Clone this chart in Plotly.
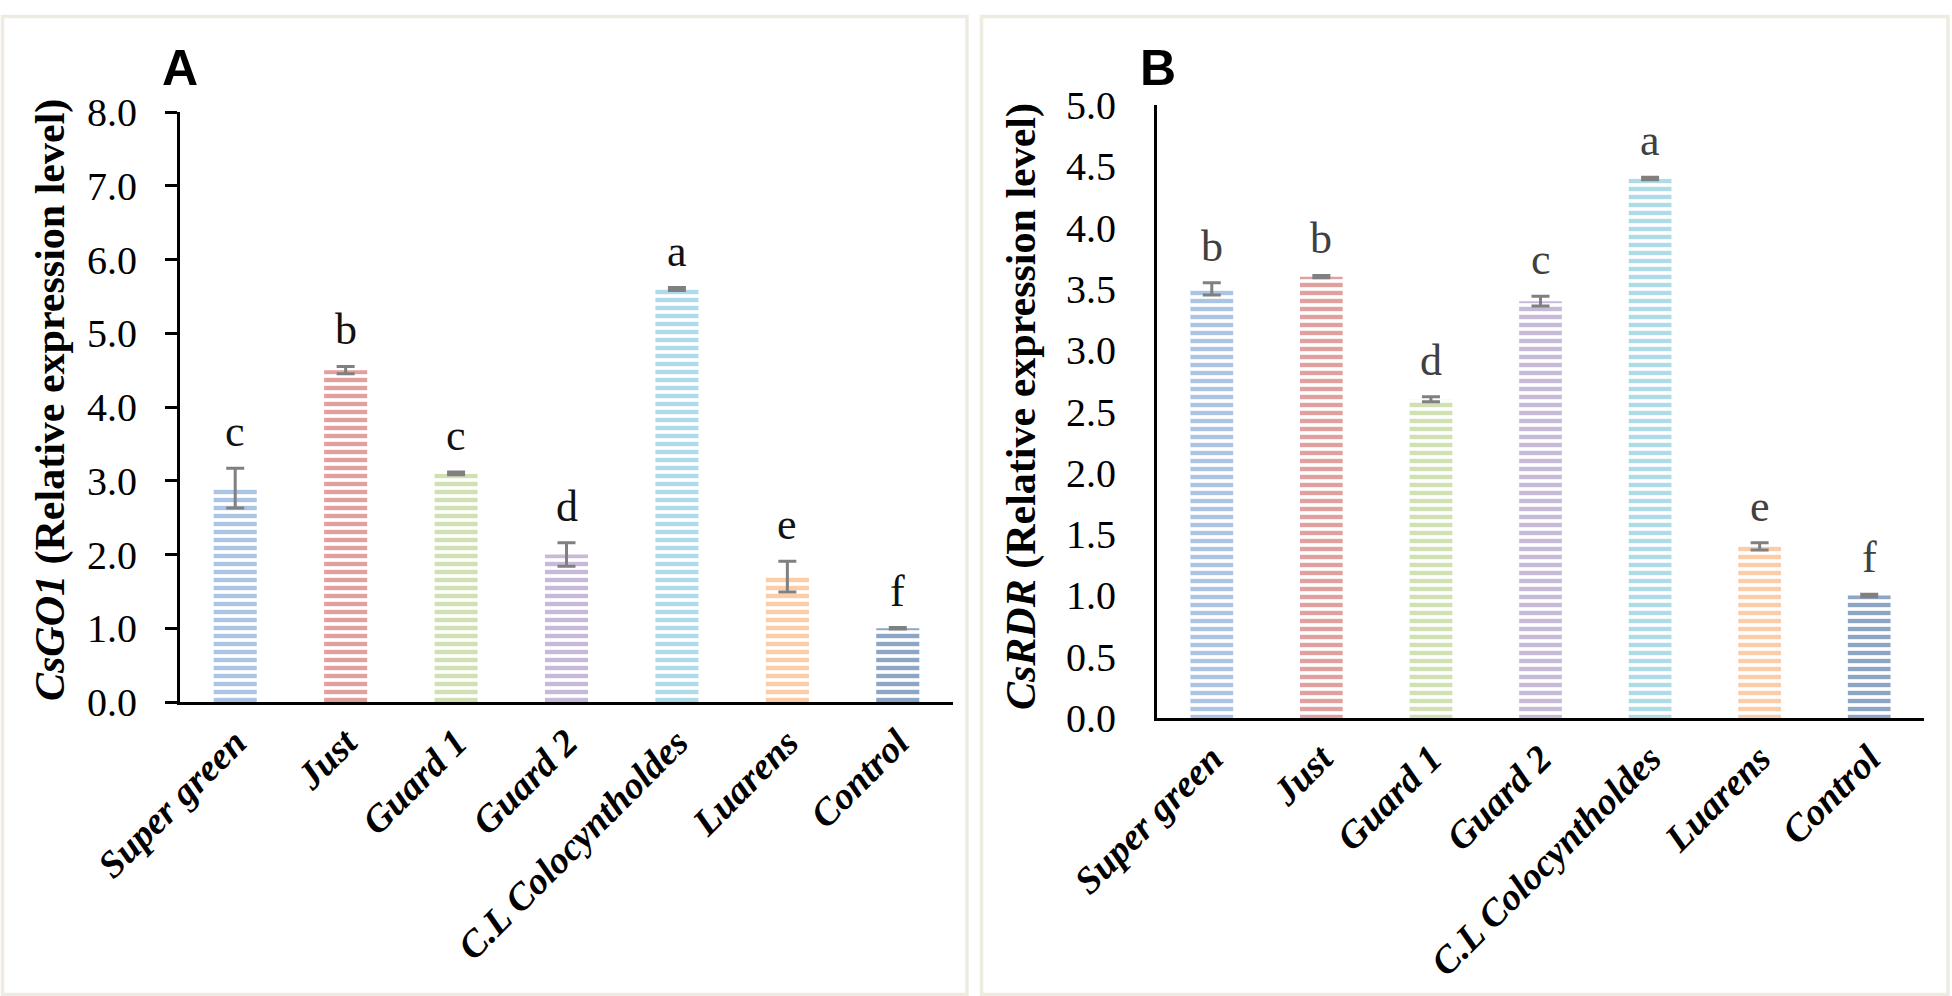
import plotly.graph_objects as go

# ---------------- data ----------------
categories = ["Super green", "Just", "Guard 1", "Guard 2",
              "C.L Colocyntholdes", "Luarens", "Control"]

go1_values = [2.9, 4.5, 3.1, 2.0, 5.6, 1.7, 1.0]
go1_errors = [0.27, 0.05, 0.02, 0.16, 0.02, 0.21, 0.01]
go1_letters = ["c", "b", "c", "d", "a", "e", "f"]

rdr_values = [3.5, 3.6, 2.6, 3.4, 4.4, 1.4, 1.0]
rdr_errors = [0.05, 0.01, 0.02, 0.04, 0.01, 0.03, 0.01]
rdr_letters = ["b", "b", "d", "c", "a", "e", "f"]

go1_ticks = [0, 1, 2, 3, 4, 5, 6, 7, 8]
rdr_ticks = [0, 0.5, 1.0, 1.5, 2.0, 2.5, 3.0, 3.5, 4.0, 4.5, 5.0]

# ---------------- style ----------------
dark_colors = ["#4f81bd", "#c0504d", "#9bbb59", "#8064a2", "#4bacc6", "#f79646", "#234a79"]
light_colors = ["#abc4e4", "#e0a09e", "#d1e0b2", "#c7bad8", "#afdae7", "#fbcca6", "#8ea6c5"]

W, H = 1952, 996
SERIF = "Liberation Serif"


def px_x(p):
    return p / W


def px_y(p):
    return 1 - p / H


fig = go.Figure()

for vals, errs, xa, ya in [(go1_values, go1_errors, "x", "y"),
                           (rdr_values, rdr_errors, "x2", "y2")]:
    fig.add_trace(go.Bar(
        x=categories, y=vals, xaxis=xa, yaxis=ya,
        marker=dict(
            color=light_colors, line=dict(width=0),
            pattern=dict(shape="-", fgcolor=dark_colors, bgcolor=light_colors,
                         fgopacity=1, size=8, solidity=0.55, fillmode="replace"),
        ),
        error_y=dict(type="data", array=errs, visible=True,
                     color="#808080", thickness=3, width=9),
        showlegend=False,
    ))

annotations = []
for vals, errs, letters, xa, ya, col in [
        (go1_values, go1_errors, go1_letters, "x", "y", "#111111"),
        (rdr_values, rdr_errors, rdr_letters, "x2", "y2", "#404040")]:
    for c, v, e, t in zip(categories, vals, errs, letters):
        annotations.append(dict(
            x=c, y=v + e, xref=xa, yref=ya, text=t, showarrow=False,
            yanchor="bottom", xanchor="center", yshift=10,
            font=dict(family=SERIF, size=44, color=col)))

# axis titles (rotated)
annotations.append(dict(
    x=px_x(50), y=px_y(400), xref="paper", yref="paper",
    text="<b><i>CsGO1</i> (Relative expression level)</b>",
    textangle=-90, showarrow=False, xanchor="center", yanchor="middle",
    font=dict(family=SERIF, size=42, color="black")))
annotations.append(dict(
    x=px_x(1021), y=px_y(407), xref="paper", yref="paper",
    text="<b><i>CsRDR</i> (Relative expression level)</b>",
    textangle=-90, showarrow=False, xanchor="center", yanchor="middle",
    font=dict(family=SERIF, size=42, color="black")))

# panel letters
annotations.append(dict(
    x=px_x(180), y=px_y(68), xref="paper", yref="paper", text="<b>A</b>",
    showarrow=False, xanchor="center", yanchor="middle",
    font=dict(family="Liberation Sans", size=50, color="black")))
annotations.append(dict(
    x=px_x(1158), y=px_y(68), xref="paper", yref="paper", text="<b>B</b>",
    showarrow=False, xanchor="center", yanchor="middle",
    font=dict(family="Liberation Sans", size=50, color="black")))

# panel frames
frame_col = "#eeece1"
shapes = [
    dict(type="rect", xref="paper", yref="paper",
         x0=px_x(2.5), x1=px_x(967), y0=px_y(994.5), y1=px_y(16.5),
         line=dict(color=frame_col, width=3.5), layer="below"),
    dict(type="rect", xref="paper", yref="paper",
         x0=px_x(981.5), x1=px_x(1948), y0=px_y(994.5), y1=px_y(16.5),
         line=dict(color=frame_col, width=3.5), layer="below"),
]

xtickfont = dict(family=SERIF, size=38, color="black", weight="bold", style="italic")
ytickfont = dict(family=SERIF, size=40, color="black")

fig.update_layout(
    width=W, height=H,
    margin=dict(l=0, r=0, t=0, b=0, autoexpand=False),
    paper_bgcolor="white", plot_bgcolor="white",
    bargap=0.61,
    annotations=annotations,
    shapes=shapes,
    xaxis=dict(domain=[px_x(180), px_x(953)], anchor="y", automargin=False,
               showline=True, linecolor="black", linewidth=3,
               ticks="", tickangle=-45, tickfont=xtickfont,
               showgrid=False, zeroline=False, ticklabelstandoff=0),
    yaxis=dict(domain=[px_y(702), px_y(112)], anchor="x", range=[0, 8],
               automargin=False,
               tickvals=go1_ticks, tickformat=".1f",
               showline=True, linecolor="black", linewidth=3,
               ticks="outside", ticklen=12, tickwidth=2.5, tickcolor="black",
               tickfont=ytickfont, showgrid=False, zeroline=False,
               ticklabelstandoff=20),
    xaxis2=dict(domain=[px_x(1157), px_x(1924)], anchor="y2", automargin=False,
                showline=True, linecolor="black", linewidth=3,
                ticks="", tickangle=-45, tickfont=xtickfont,
                showgrid=False, zeroline=False, ticklabelstandoff=0),
    yaxis2=dict(domain=[px_y(718), px_y(105)], anchor="x2", range=[0, 5],
                automargin=False,
                tickvals=rdr_ticks, tickformat=".1f",
                showline=True, linecolor="black", linewidth=3,
                ticks="", tickfont=ytickfont, showgrid=False, zeroline=False,
                ticklabelstandoff=30),
)

fig.write_html("out.html", config={"displayModeBar": False},
               post_script="document.body.style.margin='0';")
